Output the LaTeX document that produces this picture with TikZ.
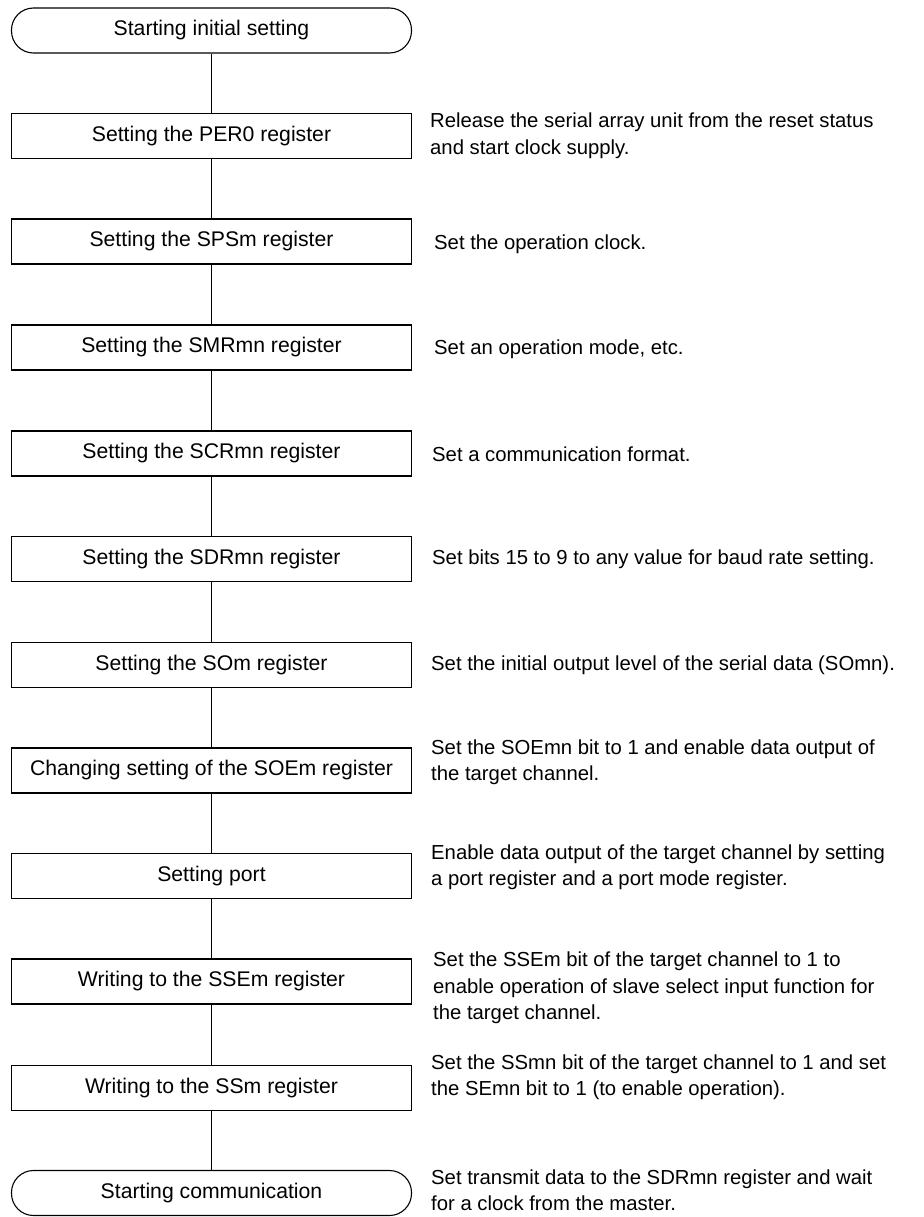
\documentclass[tikz,border=0pt]{standalone}
\usepackage{fontspec}
\setmainfont{Liberation Sans}
\begin{document}
\begin{tikzpicture}[x=1pt,y=-1pt,
  stepbox/.style={draw, line width=1.1pt, minimum width=400pt, minimum height=45pt, inner sep=0pt, font=\fontsize{21.2}{25}\selectfont},
  termbox/.style={stepbox, rounded corners=22pt},
  desc/.style={anchor=west, align=left, inner sep=0pt, font=\fontsize{20.3}{26.5}\selectfont},
  conn/.style={line width=1.1pt}]
\useasboundingbox (0,0) rectangle (923,1217);
\node[termbox] (s0) at (211.5,30.5) {Starting initial setting};
\node[stepbox] (s1) at (211.5,136) {Setting the PER0 register};
\node[stepbox] (s2) at (211.5,241.5) {Setting the SPSm register};
\node[stepbox] (s3) at (211.5,347.5) {Setting the SMRmn register};
\node[stepbox] (s4) at (211.5,453.5) {Setting the SCRmn register};
\node[stepbox] (s5) at (211.5,559) {Setting the SDRmn register};
\node[stepbox] (s6) at (211.5,665) {Setting the SOm register};
\node[stepbox] (s7) at (211.5,770.5) {Changing setting of the SOEm register};
\node[stepbox] (s8) at (211.5,876) {Setting port};
\node[stepbox] (s9) at (211.5,981.5) {Writing to the SSEm register};
\node[stepbox] (s10) at (211.5,1088) {Writing to the SSm register};
\node[termbox] (s11) at (211.5,1193) {Starting communication};
\foreach \a/\b in {s0/s1,s1/s2,s2/s3,s3/s4,s4/s5,s5/s6,s6/s7,s7/s8,s8/s9,s9/s10,s10/s11}
  \draw[conn] (\a.south) -- (\b.north);
\node[desc] (d1) at (430,136) {Release the serial array unit from the reset status\\and start clock supply.};
\node[desc] (d2) at (434,244) {Set the operation clock.};
\node[desc] (d3) at (434,349.5) {Set an operation mode, etc.};
\node[desc] (d4) at (432,454) {Set a communication format.};
\node[desc] (d5) at (432,559.5) {Set bits 15 to 9 to any value for baud rate setting.};
\node[desc] (d6) at (431,665) {Set the initial output level of the serial data (SOmn).};
\node[desc] (d7) at (431,762) {Set the SOEmn bit to 1 and enable data output of\\the target channel.};
\node[desc] (d8) at (431,867) {Enable data output of the target channel by setting\\a port register and a port mode register.};
\node[desc] (d9) at (433,988) {Set the SSEm bit of the target channel to 1 to\\enable operation of slave select input function for\\the target channel.};
\node[desc] (d10) at (431,1077) {Set the SSmn bit of the target channel to 1 and set\\the SEmn bit to 1 (to enable operation).};
\node[desc] (d11) at (431,1190) {Set transmit data to the SDRmn register and wait\\for a clock from the master.};
\end{tikzpicture}
\end{document}
